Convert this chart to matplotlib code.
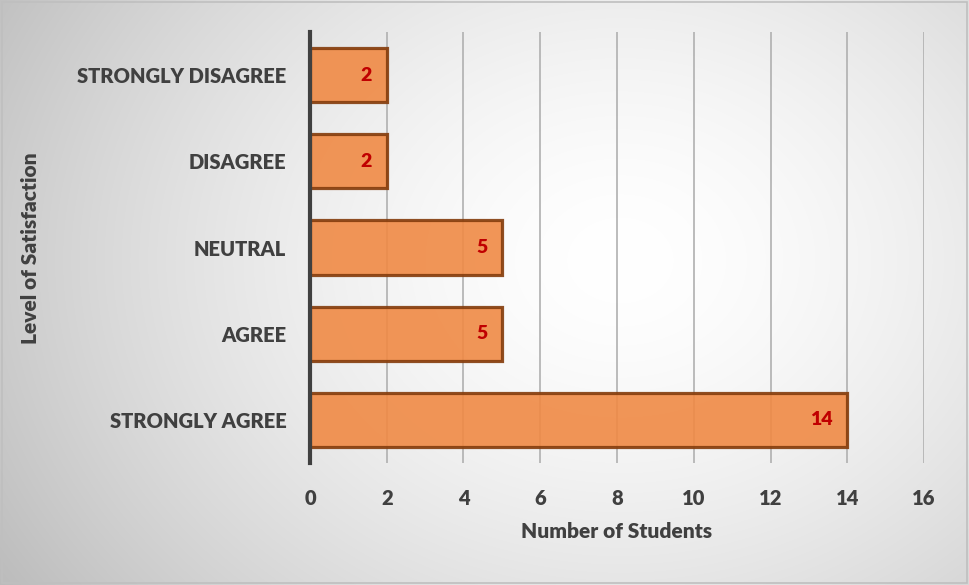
import matplotlib.pyplot as plt
import numpy as np

categories = ["STRONGLY AGREE", "AGREE", "NEUTRAL", "DISAGREE", "STRONGLY DISAGREE"]
students = [14, 5, 5, 2, 2]
x_ticks = [0, 2, 4, 6, 8, 10, 12, 14, 16]

plt.rcParams['font.family'] = ['Lato', 'DejaVu Sans']
plt.rcParams['font.weight'] = 'bold'

fig = plt.figure(figsize=(9.69, 5.85), dpi=100)

# radial grey gradient background
bg = fig.add_axes([0, 0, 1, 1], zorder=-10)
yy, xx = np.mgrid[0:585, 0:969]
r = np.sqrt(((xx - 620) / 620.0) ** 2 + ((yy - 260) / 500.0) ** 2)
shade = 1.0 - 0.2 * np.clip(r, 0, 1.2) ** 1.6
bg.imshow(np.dstack([shade] * 3), extent=[0, 1, 0, 1], aspect='auto')
bg.add_patch(plt.Rectangle((0.002, 0.003), 0.996, 0.994, fill=False,
                           edgecolor='#bfbfbf', lw=1.2, transform=bg.transAxes))
bg.set_axis_off()

ax = fig.add_axes([0.3199, 0.2085, 0.6337, 0.7368])
ax.set_facecolor('none')
y = np.arange(len(categories))
bars = ax.barh(y, students, height=0.63, color='#F08A45', alpha=0.9,
               edgecolor='#843C0C', linewidth=2.3, zorder=3)
for b, v in zip(bars, students):
    ax.text(b.get_width() - 0.38, b.get_y() + b.get_height() / 2, str(v),
            ha='right', va='center', color='#C00000', fontsize=14,
            fontweight='heavy', zorder=4)

ax.set_xlim(0, 16)
ax.set_ylim(-0.5, 4.5)
ax.set_xticks(x_ticks)
ax.set_yticks(y)
ax.set_yticklabels(categories)
ax.grid(axis='x', color='#b0b0b0', lw=1.2, zorder=0)
ax.tick_params(length=0, labelsize=14.5, labelcolor='#404040')
for lbl in ax.get_xticklabels() + ax.get_yticklabels():
    lbl.set_fontweight('heavy')
ax.tick_params(axis='x', pad=19)
ax.tick_params(axis='y', pad=17)
for s in ['top', 'right', 'bottom']:
    ax.spines[s].set_visible(False)
ax.spines['left'].set_color('#404040')
ax.spines['left'].set_linewidth(3)
ax.spines['left'].set_zorder(5)

ax.set_xlabel("Number of Students", fontsize=15, color='#404040',
              fontweight='heavy', labelpad=10)
fig.text(0.031, 0.576, "Level of Satisfaction", rotation=90, ha='center',
         va='center', fontsize=15, color='#404040', fontweight='heavy')

fig.savefig('out.png', dpi=100)
